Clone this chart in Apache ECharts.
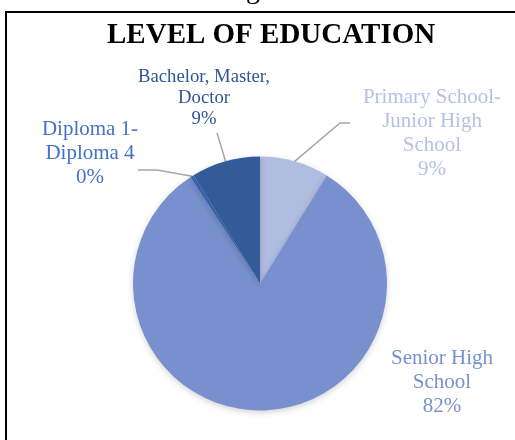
<!DOCTYPE html>
<html>
<head>
<meta charset="utf-8">
<script src="https://cdn.jsdelivr.net/npm/echarts@6/dist/echarts.min.js"></script>
<style>
  html, body { margin: 0; padding: 0; background: #fff; }
  #chart { width: 515px; height: 440px; }
</style>
</head>
<body>
<div id="chart"></div>
<script>
// Level of education of respondents (share of total, %)
const categories = [
  'Primary School-\nJunior High\nSchool',
  'Senior High\nSchool',
  'Diploma 1-\nDiploma 4',
  'Bachelor, Master,\nDoctor'
];
const shares = [8.8, 81.96, 0.49, 8.75];

// styling per slice
const sliceColors = ['#b1bde0', '#7891ce', '#3f69b9', '#335a99'];
const labelColors = ['#b4c1e3', '#7891cd', '#4472c4', '#2f5597'];
const labelSizes = [[21, 24], [21, 24], [21, 24], [18.7, 21]];
// label block centres and leader-line bends
const labelSpots = [
  { x: 432, y: 133, bends: [[340, 123], [350, 123]] },
  { x: 442, y: 382, bends: null },
  { x: 90, y: 153, bends: [[157, 170], [138, 170]] },
  { x: 204, y: 98, bends: [[217, 133]] }
];

const chart = echarts.init(document.getElementById('chart'), null, { renderer: 'canvas' });

const seriesData = categories.map((name, i) => ({
  name: name,
  value: shares[i],
  itemStyle: { color: sliceColors[i] },
  label: {
    color: labelColors[i],
    fontSize: labelSizes[i][0],
    lineHeight: labelSizes[i][1]
  },
  labelLine: { show: labelSpots[i].bends !== null }
}));

chart.setOption({
  animation: false,
  backgroundColor: '#ffffff',
  title: {
    text: 'LEVEL OF EDUCATION',
    left: 107,
    top: 21,
    padding: 0,
    textStyle: {
      fontFamily: 'Liberation Serif',
      fontWeight: 'bold',
      fontSize: 29,
      color: '#000000'
    }
  },
  graphic: [
    {
      type: 'rect',
      silent: true,
      shape: { x: 6, y: 12, width: 540, height: 460 },
      style: { fill: 'none', stroke: '#000000', lineWidth: 2 }
    },
    {
      // tail of the caption line above the frame
      type: 'text',
      silent: true,
      x: 253,
      y: -23,
      style: {
        text: 'g',
        fontFamily: 'Liberation Serif',
        fontSize: 28,
        fill: '#000000',
        textAlign: 'center',
        textVerticalAlign: 'top'
      }
    }
  ],
  series: [{
    type: 'pie',
    center: [260, 283.5],
    radius: 127,
    startAngle: 90,
    clockwise: true,
    percentPrecision: 0,
    avoidLabelOverlap: false,
    itemStyle: {
      borderWidth: 0,
      shadowBlur: 6,
      shadowOffsetY: 2,
      shadowColor: 'rgba(0,0,0,0.18)'
    },
    label: {
      show: true,
      position: 'outside',
      formatter: '{b}\n{d}%',
      fontFamily: 'Liberation Serif',
      align: 'center'
    },
    labelLine: {
      show: true,
      lineStyle: { color: '#a6a6a6', width: 1.5 }
    },
    emphasis: { disabled: true },
    labelLayout: function (params) {
      const spot = labelSpots[params.dataIndex];
      const out = { x: spot.x, y: spot.y, align: 'center', verticalAlign: 'middle' };
      if (spot.bends && params.labelLinePoints) {
        out.labelLinePoints = [params.labelLinePoints[0]].concat(spot.bends);
      }
      return out;
    },
    data: seriesData
  }]
});
</script>
</body>
</html>
